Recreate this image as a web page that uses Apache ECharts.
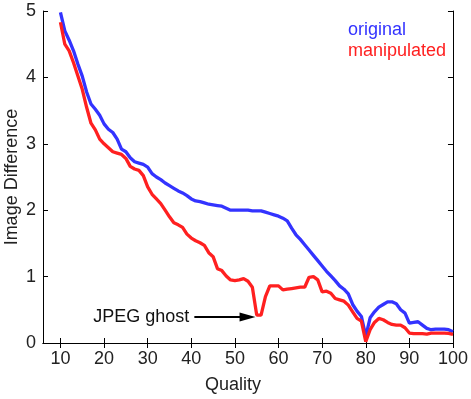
<!DOCTYPE html>
<html>
<head>
<meta charset="utf-8">
<script src="https://cdn.jsdelivr.net/npm/echarts@6/dist/echarts.min.js"></script>
<style>html,body{margin:0;padding:0;background:#fff}#c{width:471px;height:399px}</style>
</head>
<body>
<div id="c"></div>
<script>
var quality = [];
for (var q = 10; q <= 100; q++) quality.push(q);
var original = [
  4.98, 4.70, 4.56, 4.40, 4.20, 4.02, 3.78, 3.60, 3.52, 3.43,
  3.30, 3.22, 3.17, 3.07, 2.92, 2.88, 2.79, 2.73, 2.71, 2.69,
  2.65, 2.55, 2.50, 2.46, 2.41, 2.37, 2.33, 2.29, 2.26, 2.22,
  2.17, 2.14, 2.13, 2.11, 2.09, 2.08, 2.07, 2.06, 2.03, 2.00,
  2.00, 2.00, 2.00, 2.00, 1.99, 1.99, 1.99, 1.97, 1.95, 1.93,
  1.91, 1.88, 1.84, 1.73, 1.63, 1.56, 1.48, 1.40, 1.32, 1.24,
  1.16, 1.08, 1.01, 0.94, 0.86, 0.81, 0.74, 0.58, 0.48, 0.40,
  0.10, 0.38, 0.47, 0.54, 0.58, 0.62, 0.62, 0.59, 0.50, 0.45,
  0.30, 0.31, 0.32, 0.27, 0.22, 0.20, 0.21, 0.21, 0.21, 0.20,
  0.17
];
var manipulated = [
  4.83, 4.50, 4.40, 4.22, 4.02, 3.82, 3.55, 3.31, 3.21, 3.07,
  3.00, 2.94, 2.88, 2.86, 2.84, 2.78, 2.66, 2.62, 2.60, 2.52,
  2.35, 2.24, 2.17, 2.10, 2.00, 1.90, 1.81, 1.78, 1.74, 1.64,
  1.58, 1.54, 1.51, 1.47, 1.36, 1.30, 1.12, 1.09, 1.01, 0.95,
  0.94, 0.95, 0.97, 0.93, 0.84, 0.42, 0.42, 0.70, 0.86, 0.86,
  0.86, 0.80, 0.81, 0.82, 0.83, 0.84, 0.84, 0.99, 1.00, 0.95,
  0.77, 0.78, 0.75, 0.67, 0.65, 0.63, 0.57, 0.47, 0.37, 0.33,
  0.02, 0.20, 0.31, 0.37, 0.35, 0.31, 0.28, 0.27, 0.27, 0.23,
  0.15, 0.14, 0.14, 0.14, 0.135, 0.15, 0.15, 0.15, 0.15, 0.145,
  0.13
];
var xTicks = [10, 20, 30, 40, 50, 60, 70, 80, 90, 100];
var ghostArrow = [[40.7, 0.39], [52.9, 0.39]];
var ghostLabel = 'JPEG ghost';

function pairs(xs, ys) { return xs.map(function (x, i) { return [x, ys[i]]; }); }

var FONT = 'Liberation Sans, Arial, Helvetica, sans-serif';
var TXT = '#222';
var chart = echarts.init(document.getElementById('c'), null, {renderer: 'canvas'});
var axisLine = {show: true, lineStyle: {color: '#000', width: 1}};
chart.setOption({
  animation: false,
  backgroundColor: '#fff',
  grid: {left: 43, right: 18, top: 11, bottom: 56, show: false},
  xAxis: [{
    type: 'value', min: 6, max: 100, position: 'bottom',
    axisLine: axisLine,
    axisTick: {show: true, inside: true, length: 5, customValues: xTicks, lineStyle: {color: '#000'}},
    axisLabel: {show: true, customValues: xTicks, color: TXT, fontSize: 18, fontFamily: FONT, margin: 7},
    splitLine: {show: false}
  }, {
    type: 'value', min: 6, max: 100, position: 'top',
    axisLine: axisLine,
    axisTick: {show: true, inside: true, length: 5, customValues: xTicks, lineStyle: {color: '#000'}},
    axisLabel: {show: false},
    splitLine: {show: false}
  }],
  yAxis: [{
    type: 'value', min: 0, max: 5, interval: 1, position: 'left',
    axisLine: axisLine,
    axisTick: {show: true, inside: true, length: 5, lineStyle: {color: '#000'}},
    axisLabel: {color: TXT, fontSize: 18, fontFamily: FONT, margin: 7},
    splitLine: {show: false}
  }, {
    type: 'value', min: 0, max: 5, interval: 1, position: 'right',
    axisLine: axisLine,
    axisTick: {show: true, inside: true, length: 5, lineStyle: {color: '#000'}},
    axisLabel: {show: false},
    splitLine: {show: false}
  }],
  series: [{
    name: 'original', type: 'line', data: pairs(quality, original),
    showSymbol: false, symbol: 'none',
    lineStyle: {color: '#3333ff', width: 3.3}, itemStyle: {color: '#3333ff'},
    z: 2
  }, {
    name: 'manipulated', type: 'line', data: pairs(quality, manipulated),
    showSymbol: false, symbol: 'none',
    lineStyle: {color: '#ff2020', width: 3.3}, itemStyle: {color: '#ff2020'},
    z: 3,
    markLine: {
      silent: true, animation: false,
      symbol: ['none', 'triangle'], symbolSize: [9, 16],
      lineStyle: {color: '#000', width: 1.8, type: 'solid'},
      label: {show: true, position: 'start', formatter: ghostLabel, color: '#111', fontSize: 18, fontFamily: FONT, distance: 5},
      data: [[{coord: ghostArrow[0]}, {coord: ghostArrow[1]}]]
    }
  }],
  graphic: [
    {type: 'text', left: 348, top: 21, style: {text: 'original', fill: '#3333ff', font: '18px ' + FONT}},
    {type: 'text', left: 348, top: 42, style: {text: 'manipulated', fill: '#ff2020', font: '18px ' + FONT}},
    {type: 'text', x: 233, y: 385, style: {text: 'Quality', fill: TXT, font: '18px ' + FONT, align: 'center', verticalAlign: 'middle'}},
    {type: 'text', x: 12, y: 177, rotation: Math.PI / 2, style: {text: 'Image Difference', fill: TXT, font: '18px ' + FONT, align: 'center', verticalAlign: 'middle'}}
  ]
});
</script>
</body>
</html>
